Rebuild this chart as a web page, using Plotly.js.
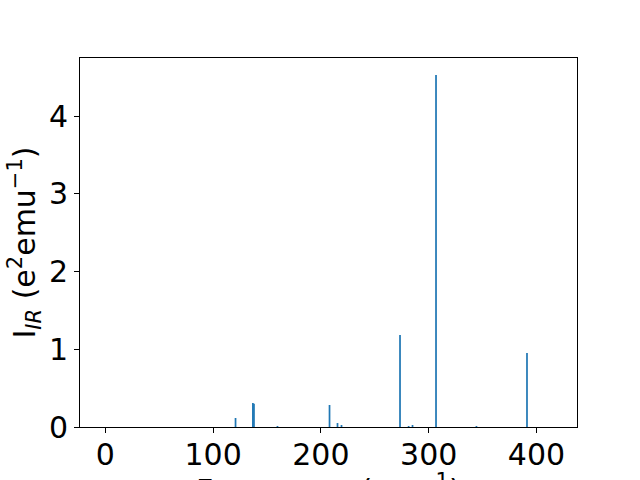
<!DOCTYPE html>
<html>
<head>
<meta charset="utf-8">
<script src="https://cdn.plot.ly/plotly-3.0.1.min.js"></script>
<style>html,body{margin:0;padding:0;background:#fff}#chart{width:640px;height:480px}</style>
</head>
<body>
<div id="chart"></div>
<script>
var frequencies = [120.8, 136.9, 137.9, 159.7, 208.0, 215.4, 219.1, 273.4, 281.4, 285.0, 306.8, 344.3, 391.2];
var intensities = [0.116, 0.31, 0.30, 0.013, 0.283, 0.051, 0.026, 1.183, 0.013, 0.026, 4.527, 0.013, 0.952];
var xTicks = [0, 100, 200, 300, 400];
var yTicks = [0, 1, 2, 3, 4];
var xTitle = 'Frequency (cm<sup>−1</sup>)';
var yTitle = 'I<sub><i>IR</i></sub> (e<sup>2</sup>emu<sup>−1</sup>)';

var trace = {
  type: 'bar',
  x: frequencies,
  y: intensities,
  width: 1.6,
  marker: {color: '#1f77b4', line: {width: 0}},
  hoverinfo: 'x+y'
};

var font = {family: 'DejaVu Sans', size: 30, color: '#000'};

var layout = {
  width: 640, height: 480,
  margin: {l: 80, r: 63, t: 58, b: 53},
  paper_bgcolor: '#fff', plot_bgcolor: '#fff',
  showlegend: false,
  font: font,
  xaxis: {
    range: [-23.5, 437.6],
    tickvals: xTicks,
    ticktext: xTicks.map(String),
    ticks: 'outside', ticklen: 5, tickwidth: 1, tickcolor: '#000',
    ticklabelstandoff: -4,
    showline: true, linecolor: '#000', linewidth: 1, mirror: true,
    showgrid: false, zeroline: false,
    tickfont: font,
    automargin: false
  },
  yaxis: {
    range: [0, 4.746],
    tickvals: yTicks,
    ticktext: yTicks.map(String),
    ticks: 'outside', ticklen: 5, tickwidth: 1, tickcolor: '#000',
    showline: true, linecolor: '#000', linewidth: 1, mirror: true,
    showgrid: false, zeroline: false,
    tickfont: font,
    automargin: false,
    title: {text: yTitle, font: font, standoff: 4}
  },
  annotations: [{
    text: xTitle,
    xref: 'paper', yref: 'paper',
    x: 0.5, y: 0,
    xanchor: 'center', yanchor: 'top',
    yshift: -40,
    showarrow: false,
    font: font
  }]
};

Plotly.newPlot('chart', [trace], layout, {displayModeBar: false, staticPlot: true});
</script>
</body>
</html>
